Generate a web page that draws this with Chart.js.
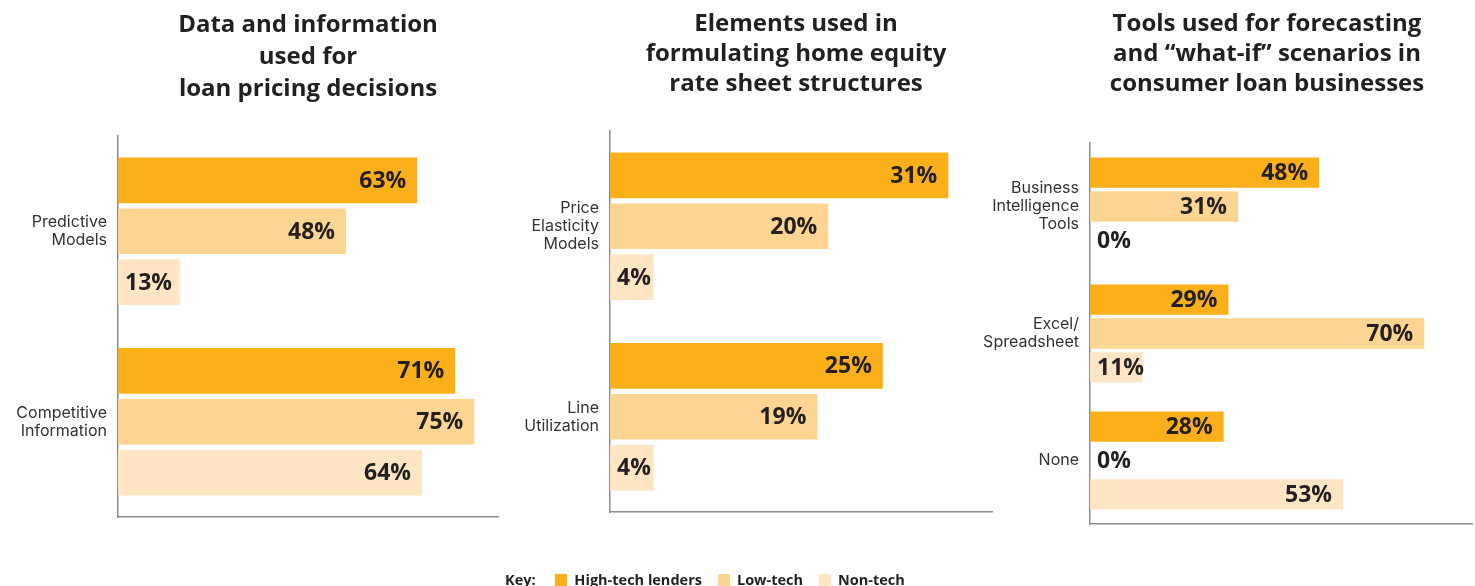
<!DOCTYPE html>
<html>
<head>
<meta charset="utf-8">
<script src="https://cdn.jsdelivr.net/npm/chart.js@4.4.1/dist/chart.umd.min.js"></script>
<style>
body{margin:0;background:#fff;width:1475px;height:586px;overflow:hidden;position:relative;font-family:'Open Sans',sans-serif}
canvas{position:absolute;top:0}
#key{position:absolute;left:505px;top:570px;font-weight:700;font-size:14.5px;color:#231f20;white-space:nowrap;line-height:20px}
#key .sw{display:inline-block;width:12px;height:12px;vertical-align:-1px;margin:0 7px 0 16px}
</style>
</head>
<body>
<canvas id="c1" width="500" height="586" style="left:0px"></canvas>
<canvas id="c2" width="500" height="586" style="left:500px"></canvas>
<canvas id="c3" width="495" height="586" style="left:980px"></canvas>
<div id="key">Key: </div>
<script>
// series
const seriesNames = ['High-tech lenders', 'Low-tech', 'Non-tech']
const seriesColors = ['#fbb01b', '#fdd592', '#fee6c4']

// chart 1
const pricingTitle = ['Data and information', 'used for', 'loan pricing decisions']
const pricingCats = [['Predictive', 'Models'], ['Competitive', 'Information']]
const pricingHigh = [63, 71]
const pricingLow = [48, 75]
const pricingNon = [13, 64]

// chart 2
const rateTitle = ['Elements used in', 'formulating home equity', 'rate sheet structures']
const rateCats = [['Price', 'Elasticity', 'Models'], ['Line', 'Utilization']]
const rateHigh = [31, 25]
const rateLow = [20, 19]
const rateNon = [4, 4]

// chart 3
const toolsTitle = ['Tools used for forecasting', 'and \u201cwhat-if\u201d scenarios in', 'consumer loan businesses']
const toolsCats = [['Business', 'Intelligence', 'Tools'], ['Excel/', 'Spreadsheet'], ['None']]
const toolsHigh = [48, 29, 28]
const toolsLow = [31, 70, 0]
const toolsNon = [0, 11, 53]

// value labels: right inside the bar end, pushed out when the bar is too short
const barLabels = {
    id: 'barLabels',
    afterLayout(chart){
        // title isn't quite centred over the plot in the original
        const s = chart.options.titleShift || 0
        if(chart.titleBlock && s){
            chart.titleBlock.left += s
            chart.titleBlock.right += s
        }
    },
    afterDatasetsDraw(chart){
        const ctx = chart.ctx
        ctx.save()
        ctx.font = 'bold 23px "Open Sans"'
        ctx.fillStyle = '#231f20'
        ctx.textBaseline = 'middle'
        ctx.textAlign = 'right'
        chart.data.datasets.forEach((ds, i)=>{
            chart.getDatasetMeta(i).data.forEach((bar, j)=>{
                const txt = ds.data[j] + '%'
                const w = ctx.measureText(txt).width
                const x = Math.max(bar.x - 11, bar.base + 7 + w)
                ctx.fillText(txt, x, bar.y + 1)
            })
        })
        ctx.restore()
    }
}

function drawChart(id, title, cats, high, low, non, xMax, o){
    const axisColor = '#8c8c8c'
    return new Chart(document.getElementById(id), {
        type: 'bar',
        data: {
            labels: cats,
            datasets: [high, low, non].map((d, i)=>({
                label: seriesNames[i],
                data: d,
                backgroundColor: seriesColors[i],
                borderWidth: 0,
                barPercentage: 0.9,
                categoryPercentage: 0.8
            }))
        },
        options: {
            indexAxis: 'y',
            responsive: false,
            animation: false,
            events: [],
            titleShift: o.shift,
            layout: {padding: {top: 0, left: 0, right: o.right, bottom: o.bottom}},
            scales: {
                x: {
                    min: 0, max: xMax,
                    grid: {display: false, drawTicks: false},
                    border: {display: true, color: axisColor, width: 1.5},
                    ticks: {display: false}
                },
                y: {
                    grid: {display: false, drawTicks: false},
                    border: {display: true, color: axisColor, width: 1.5},
                    ticks: {
                        padding: 11,
                        color: '#333333',
                        font: {family: 'Inter', size: 16, lineHeight: '18px'}
                    },
                    afterFit: s=>{ s.width = o.yWidth }
                }
            },
            plugins: {
                legend: {display: false},
                tooltip: {enabled: false},
                title: {
                    display: true,
                    text: title,
                    fullSize: false,
                    color: '#231f20',
                    font: {family: 'Open Sans', size: 24, weight: 'bold', lineHeight: o.lh + 'px'},
                    padding: {top: 9, bottom: o.titleGap}
                }
            }
        },
        plugins: [barLabels]
    })
}

drawChart('c1', pricingTitle, pricingCats, pricingHigh, pricingLow, pricingNon, 80,
    {yWidth: 118, right: 2, bottom: 69, lh: 32, titleGap: 31, shift: 0})
drawChart('c2', rateTitle, rateCats, rateHigh, rateLow, rateNon, 35,
    {yWidth: 110, right: 8, bottom: 74, lh: 30, titleGap: 32, shift: -5})
drawChart('c3', toolsTitle, toolsCats, toolsHigh, toolsLow, toolsNon, 80,
    {yWidth: 110, right: 3, bottom: 62, lh: 30, titleGap: 44, shift: -14})

// key
const key = document.getElementById('key')
seriesNames.forEach((n, i)=>{
    const sw = document.createElement('span')
    sw.className = 'sw'
    sw.style.background = seriesColors[i]
    key.appendChild(sw)
    key.appendChild(document.createTextNode(n))
})
</script>
</body>
</html>
